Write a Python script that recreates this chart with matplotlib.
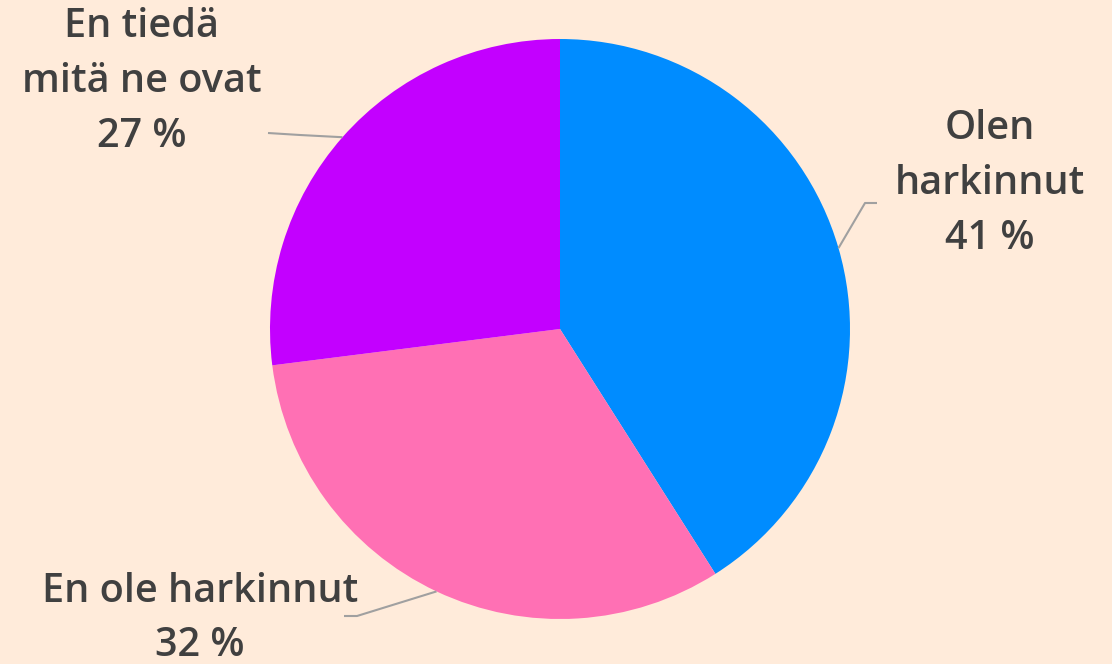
import numpy as np
import matplotlib.pyplot as plt

# Pie data
labels = ["Olen\nharkinnut", "En ole harkinnut", "En tiedä\nmitä ne ovat"]
values = [41, 32, 27]
colors = ["#008CFF", "#FF70B4", "#C300FF"]

bg = "#FFEBDA"
txt = "#404040"
line_col = "#A0A0A0"

fig = plt.figure(figsize=(11.12, 6.64), dpi=100, facecolor=bg)
ax = fig.add_axes([0, 0, 1, 1])
ax.set_facecolor(bg)

cx, cy, r = 560, 335, 290
wedges, _ = ax.pie(values, colors=colors, startangle=90, counterclock=False,
                   center=(cx, cy), radius=r, frame=True,
                   wedgeprops=dict(linewidth=0))
ax.set_xlim(0, 1112)
ax.set_ylim(0, 664)
ax.set_aspect("equal")
ax.axis("off")

# label placement: (elbow, end of leader, text anchor)
layout = [
    ((865, 461), (877, 461), (990, 480)),
    ((357, 48), (344, 48), (200, 45)),
    ((300, 529), (268, 531), (142, 582)),
]

for w, lab, v, (elb, end, tpos) in zip(wedges, labels, values, layout):
    mid = np.radians((w.theta1 + w.theta2) / 2)
    px, py = cx + r * np.cos(mid), cy + r * np.sin(mid)
    ax.plot([px, elb[0], end[0]], [py, elb[1], end[1]], color=line_col, lw=1.5,
            solid_capstyle="butt")
    ax.text(tpos[0], tpos[1], f"{lab}\n{v} %", ha="center", va="center",
            fontsize=28.5, color=txt, fontweight="semibold", family="Open Sans",
            linespacing=1.5)

fig.savefig("out.png", dpi=100, facecolor=bg)
